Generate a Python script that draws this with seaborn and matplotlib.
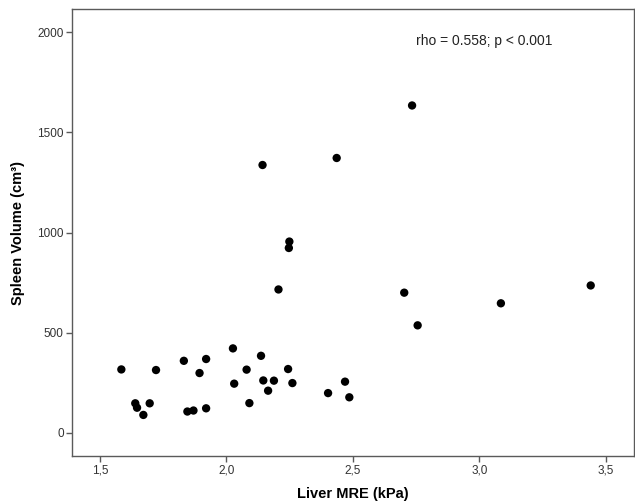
import pandas as pd
import seaborn as sns
import matplotlib.pyplot as plt
from matplotlib.ticker import FuncFormatter

# values
liver_mre = [1.585, 1.640, 1.647, 1.672, 1.697, 1.722, 1.832, 1.846, 1.870, 1.894,
             1.920, 1.920, 2.026, 2.031, 2.080, 2.091, 2.137, 2.146, 2.165, 2.188,
             2.244, 2.261, 2.206, 2.249, 2.247, 2.143, 2.734, 2.436, 2.703, 2.756,
             3.085, 3.440, 2.469, 2.402, 2.486]
spleen_volume = [317, 148, 126, 90, 148, 314, 360, 107, 112, 299,
                 369, 123, 422, 246, 316, 149, 385, 262, 211, 261,
                 319, 249, 716, 955, 923, 1337, 1634, 1372, 700, 537,
                 647, 736, 256, 199, 178]

df = pd.DataFrame({'Liver MRE (kPa)': liver_mre, 'Spleen Volume': spleen_volume})

sns.set_theme(style='white')
plt.rcParams['font.family'] = ['Liberation Sans', 'DejaVu Sans']

fig = plt.figure(figsize=(6.35, 5.04), dpi=100)
ax = fig.add_axes([0.1134, 0.0952, 0.8846, 0.8868])

sns.scatterplot(data=df, x='Liver MRE (kPa)', y='Spleen Volume', ax=ax,
                color='black', s=36, edgecolor='none', legend=False)

ax.set_xlim(1.39, 3.61)
ax.set_ylim(-115, 2115)
ax.set_xticks([1.5, 2.0, 2.5, 3.0, 3.5])
ax.set_yticks([0, 500, 1000, 1500, 2000])
ax.xaxis.set_major_formatter(FuncFormatter(lambda v, p: f'{v:.1f}'.replace('.', ',')))

for side in ax.spines.values():
    side.set_color('#5a5a5a')
    side.set_linewidth(1.0)
ax.tick_params(axis='both', which='major', direction='out', length=4, width=1,
               color='#5a5a5a', labelcolor='#333333', labelsize=8.5, pad=2,
               bottom=True, left=True)

ax.set_xlabel('Liver MRE (kPa)', fontsize=10.5, fontweight='bold', labelpad=8, color='black')
ax.set_ylabel('Spleen Volume (cm³)', fontsize=10.5, fontweight='bold', labelpad=9, color='black')

ax.text(0.733, 0.928, 'rho = 0.558; p < 0.001', transform=ax.transAxes,
        ha='center', va='center', fontsize=10, color='#222222')

plt.savefig('out.png', dpi=100)
